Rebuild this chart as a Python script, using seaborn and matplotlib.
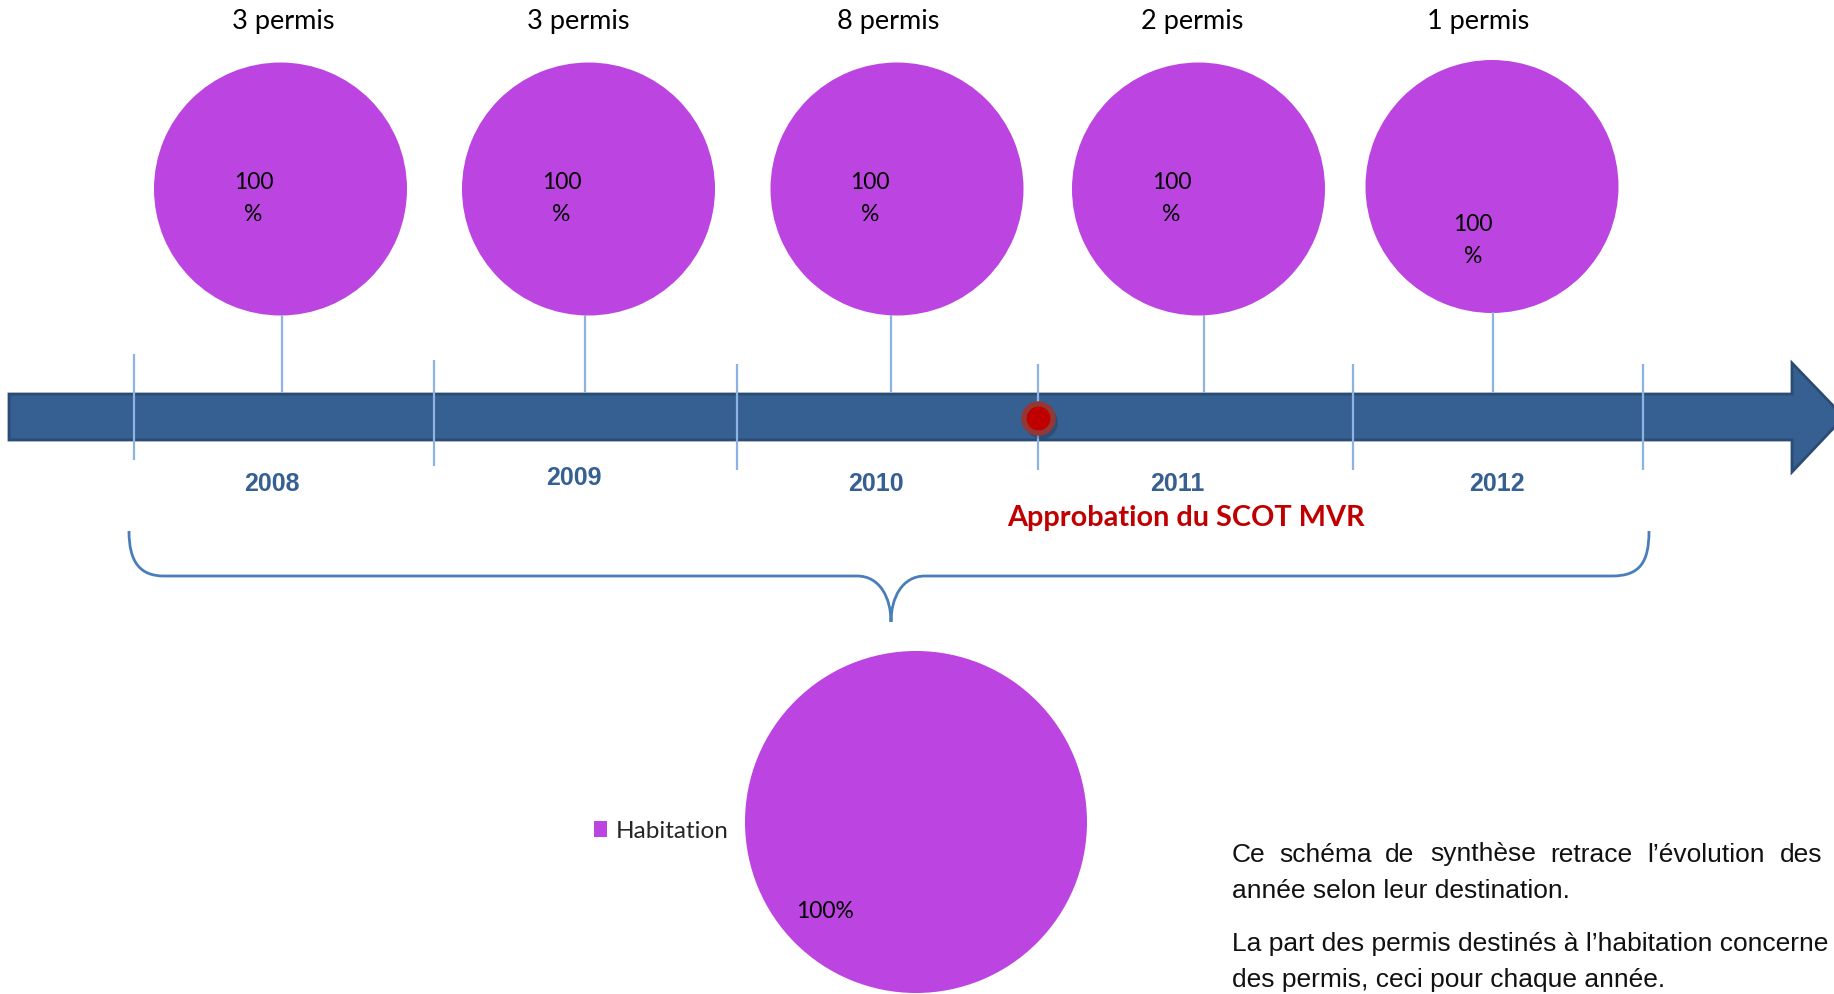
import matplotlib
matplotlib.use("Agg")
import matplotlib.pyplot as plt
import seaborn as sns
import pandas as pd
from matplotlib.patches import Polygon, PathPatch
from matplotlib.path import Path

# ---------------- data ----------------
years = ["2008", "2009", "2010", "2011", "2012"]
permis = [3, 3, 8, 2, 1]
part_habitation = [100, 100, 100, 100, 100]
destinations = ["Habitation"]
part_totale = [100]
event_label = "Approbation du SCOT MVR"
para_line1 = ["Ce", "schéma", "de", "synthèse", "retrace", "l’évolution", "des"]
para_lines = ["année selon leur destination.",
              "La part des permis destinés à l’habitation concerne",
              "des permis, ceci pour chaque année."]

# ---------------- layout (pixel canvas 1834 x 994) ----------------
W, H = 1834, 994
pie_x = [280.5, 588.5, 897, 1198.5, 1492]
pie_y = [189, 189, 189, 189, 186.5]
pie_r = 126.5
pct_dx = [-27, -27, -27, -27, -19]
pct_dy = [9.5, 9.5, 9.5, 9.5, 54]
permis_x = [283, 578, 888, 1192, 1478]
conn_x = [282, 584.5, 891, 1204, 1493]
year_x = [272, 574, 876, 1177, 1497]
year_y = [484, 478, 484, 484, 484]
tick_x = [134, 434, 736.5, 1038, 1353, 1643]
tick_top = [354, 360, 364, 364, 364, 364]
event_x = 1038
big_c, big_r = (916, 822), 171
para_w_x = [1232, 1279, 1385, 1430, 1550, 1647, 1780]

PURPLE = "#bc44e0"
ARROW = "#376092"
ARROW_EDGE = "#2a4b73"
TICK = "#8db3e2"
YEARC = "#376092"
BRACE = "#4a7ebb"
RED = "#c00000"

sns.set_theme(style="white")
plt.rcParams["font.family"] = ["Lato", "DejaVu Sans"]

fig = plt.figure(figsize=(18.34, 9.94), dpi=100)
ax = fig.add_axes([0, 0, 1, 1])

# arrow
arrow = Polygon([(9, 394), (1792, 394), (1792, 363), (1844, 417),
                 (1792, 472), (1792, 440), (9, 440)], closed=True,
                facecolor=ARROW, edgecolor=ARROW_EDGE, lw=2, zorder=2)
ax.add_patch(arrow)

# tick lines
ax.vlines(tick_x, tick_top, [t + 106 for t in tick_top], color=TICK, lw=1.6, zorder=3)

# small pies + connectors + labels
for i, yr in enumerate(years):
    ax.pie([part_habitation[i]], colors=[PURPLE], center=(pie_x[i], pie_y[i]),
           radius=pie_r, frame=True, startangle=90,
           wedgeprops=dict(linewidth=0))
    ax.plot([conn_x[i], conn_x[i]], [pie_y[i] + pie_r, 392], color=TICK, lw=1.6, zorder=3)
    ax.text(pie_x[i] + pct_dx[i], pie_y[i] + pct_dy[i], f"{part_habitation[i]}\n%",
            ha="center", va="center", fontsize=16.5, color="black",
            linespacing=1.6, zorder=5)
    ax.text(permis_x[i], 22, f"{permis[i]} permis", ha="center", va="center",
            fontsize=19.5, color="black")
    ax.text(year_x[i], year_y[i], yr, ha="center", va="center", fontsize=18,
            fontweight="bold", color=YEARC, family=["Liberation Sans", "DejaVu Sans"])

# event marker
ax.scatter([event_x + 3], [419 + 3], s=560, color="#000000", alpha=0.18, lw=0, zorder=5)
ev = pd.DataFrame({"x": [event_x], "y": [417.5]})
sns.scatterplot(data=ev, x="x", y="y", s=441, color=RED, edgecolor="#953735",
                linewidth=3.8, ax=ax, zorder=6, legend=False)
ax.text(1186, 518, event_label, ha="center", va="center", fontsize=20.8,
        fontweight="bold", color=RED)

# brace
verts = [(129, 531), (129, 562), (140, 576), (164, 576),
         (857, 576),
         (880, 576), (891, 598), (891, 622),
         (891, 598), (902, 576), (925, 576),
         (1612, 576),
         (1640, 576), (1649, 562), (1649, 531)]
codes = [Path.MOVETO, Path.CURVE4, Path.CURVE4, Path.CURVE4,
         Path.LINETO,
         Path.CURVE4, Path.CURVE4, Path.CURVE4,
         Path.CURVE4, Path.CURVE4, Path.CURVE4,
         Path.LINETO,
         Path.CURVE4, Path.CURVE4, Path.CURVE4]
ax.add_patch(PathPatch(Path(verts, codes), facecolor="none", edgecolor=BRACE, lw=2, zorder=3))

# big pie
wedges, _ = ax.pie(part_totale, colors=[PURPLE], center=big_c, radius=big_r,
                   frame=True, startangle=90, wedgeprops=dict(linewidth=0))
ax.text(825, 912, f"{part_totale[0]}%", ha="center", va="center", fontsize=16.5,
        color="black", zorder=5)
ax.legend(wedges, destinations, loc="center left",
          bbox_to_anchor=(594 / W, 1 - 831 / H), frameon=False, fontsize=17.5,
          handlelength=0.55, handleheight=0.65, handletextpad=0.35, borderpad=0,
          borderaxespad=0)

# paragraph
pfam = ["Liberation Sans", "DejaVu Sans"]
for wx, w in zip(para_w_x, para_line1):
    ax.text(wx, 861.5, w, ha="left", va="baseline", fontsize=19, color="#111111", family=pfam)
for ly, line in zip([898, 951.5, 986.5], para_lines):
    ax.text(1232, ly, line, ha="left", va="baseline", fontsize=19, color="#111111", family=pfam)

ax.set_xlim(0, W)
ax.set_ylim(H, 0)
ax.set_aspect("auto")
ax.axis("off")
fig.savefig("out.png", dpi=100)
